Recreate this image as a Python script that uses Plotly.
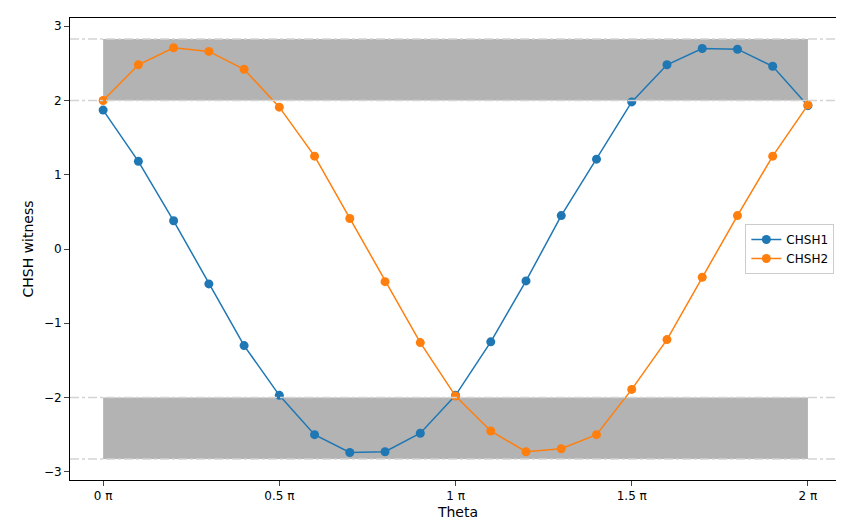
import numpy as np
import plotly.graph_objects as go

theta = [i / 10 for i in range(21)]  # in units of pi
chsh1 = [1.87, 1.18, 0.38, -0.47, -1.30, -1.97, -2.50, -2.74, -2.73, -2.48, -1.97,
         -1.25, -0.43, 0.45, 1.21, 1.98, 2.48, 2.70, 2.69, 2.46, 1.93]
chsh2 = [2.00, 2.48, 2.71, 2.66, 2.42, 1.91, 1.25, 0.41, -0.44, -1.26, -1.98,
         -2.45, -2.73, -2.69, -2.50, -1.89, -1.22, -0.38, 0.45, 1.25, 1.94]
bounds = [2, 2 * np.sqrt(2)]
tick_vals = [0, 0.5, 1, 1.5, 2]
tick_text = ["0 π", "0.5 π", "1 π", "1.5 π", "2 π"]

fig = go.Figure()

# classical / quantum bound bands
for lo, hi in [(bounds[0], bounds[1]), (-bounds[1], -bounds[0])]:
    fig.add_trace(go.Scatter(x=[0, 2, 2, 0, 0], y=[lo, lo, hi, hi, lo], fill="toself",
                             fillcolor="rgba(128,128,128,0.6)", line=dict(width=0),
                             mode="lines", showlegend=False, hoverinfo="skip"))
for b in [bounds[0], bounds[1], -bounds[0], -bounds[1]]:
    fig.add_hline(y=b, line=dict(color="lightgray", width=1.5, dash="dashdot"))

fig.add_trace(go.Scatter(x=theta, y=chsh1, mode="lines+markers", name="CHSH1",
                         line=dict(color="#1f77b4", width=1.5), marker=dict(size=9)))
fig.add_trace(go.Scatter(x=theta, y=chsh2, mode="lines+markers", name="CHSH2",
                         line=dict(color="#ff7f0e", width=1.5), marker=dict(size=9)))

fig.update_layout(
    width=844, height=525, plot_bgcolor="white", paper_bgcolor="white",
    margin=dict(l=62, r=6, t=10, b=53),
    font=dict(family="DejaVu Sans", size=12, color="black"),
    legend=dict(x=0.985, y=0.5, xanchor="right", yanchor="middle",
                bordercolor="#cccccc", borderwidth=1, bgcolor="white"),
    xaxis=dict(range=[-0.094, 2.108], tickvals=tick_vals, ticktext=tick_text,
               showgrid=False, zeroline=False, showline=True, linecolor="black",
               mirror=True, ticks="outside", automargin=False,
               title=dict(text="Theta", standoff=4)),
    yaxis=dict(range=[-3.11, 3.11], tickvals=[-3, -2, -1, 0, 1, 2, 3],
               ticktext=["−3", "−2", "−1", "0", "1", "2", "3"],
               showgrid=False, zeroline=False, showline=True, linecolor="black",
               mirror=True, ticks="outside", automargin=False,
               title=dict(text="CHSH witness", standoff=6)),
)

fig.write_html("out.html")
